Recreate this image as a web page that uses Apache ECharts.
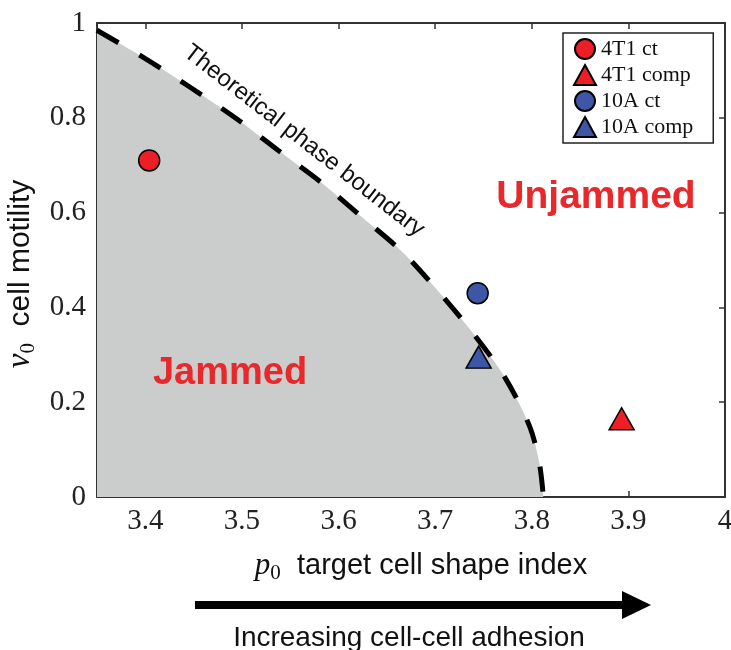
<!DOCTYPE html>
<html>
  <head>
    <meta charset="utf-8" />
    <script src="https://cdn.jsdelivr.net/npm/echarts@6/dist/echarts.min.js"></script>
  </head>
  <body style="margin:0;background:#fff">
    <div id="main" style="width: 731px;height:650px;"></div>
    <script type="text/javascript">
      // theoretical phase boundary (p0, v0)
      var boundaryP0 = [3.35, 3.353, 3.40, 3.446, 3.493, 3.537, 3.583, 3.625, 3.666, 3.705, 3.739, 3.772, 3.798, 3.808, 3.812];
      var boundaryV0 = [0.985, 0.981, 0.925, 0.865, 0.800, 0.732, 0.662, 0.589, 0.517, 0.430, 0.346, 0.253, 0.148, 0.07, 0.0];

      var seriesNames = ['4T1 ct', '4T1 comp', '10A ct', '10A comp'];
      var seriesP0 = [3.404, 3.893, 3.744, 3.745];
      var seriesV0 = [0.71, 0.165, 0.43, 0.295];
      var seriesSymbols = ['circle', 'triangle', 'circle', 'triangle'];
      var seriesColors = ['#ec1f27', '#ec1f27', '#3d56a6', '#3d56a6'];

      var boundaryData = boundaryP0.map(function (p, i) { return [p, boundaryV0[i]]; });

      var serif = 'Liberation Serif';
      var sans = 'Liberation Sans';

      var scatterSeries = seriesNames.map(function (name, i) {
        return {
          name: name,
          type: 'scatter',
          z: 5,
          symbol: seriesSymbols[i],
          symbolSize: seriesSymbols[i] == 'circle' ? 21 : [25, 22],
          itemStyle: { color: seriesColors[i], borderColor: '#000', borderWidth: 1.5, opacity: 1 },
          data: [[seriesP0[i], seriesV0[i]]]
        };
      });

      var frameLine = { onZero: false, lineStyle: { color: '#333', width: 2 } };
      var frameTick = { inside: true, length: 6, lineStyle: { color: '#333', width: 1.5 } };

      var myChart = echarts.init(document.getElementById('main'));
      var option = {
        backgroundColor: '#fff',
        animation: false,
        grid: { left: 97, right: 6, top: 23, bottom: 153, containLabel: false, outerBoundsMode: 'none' },
        legend: {
          data: seriesNames,
          orient: 'vertical',
          left: 563,
          top: 33,
          padding: [5, 20, 5, 10],
          itemWidth: 22,
          itemHeight: 20,
          itemGap: 4,
          borderColor: '#222',
          borderWidth: 1.5,
          backgroundColor: '#fff',
          textStyle: { fontFamily: serif, fontSize: 22, color: '#111' }
        },
        xAxis: [{
          type: 'value',
          min: 3.35,
          max: 4,
          splitNumber: 7,
          axisLine: frameLine,
          axisTick: frameTick,
          splitLine: { show: false },
          axisLabel: {
            margin: 10,
            fontFamily: serif, fontSize: 29, color: '#222',
            formatter: function (v) { return Math.abs(v - 3.35) < 1e-6 ? '' : String(+v.toFixed(2)); }
          },
          name: '{i|p}{s|0}{t|  target cell shape index}',
          nameLocation: 'middle',
          nameGap: 50,
          nameTextStyle: {
            rich: {
              i: { fontFamily: serif, fontStyle: 'italic', fontSize: 31, color: '#111', padding: [0, 0, 0, 20] },
              s: { fontFamily: serif, fontSize: 21, color: '#111', padding: [16, 0, 0, 0] },
              t: { fontFamily: sans, fontSize: 29, color: '#111' }
            }
          }
        }, {
          type: 'value',
          position: 'top',
          min: 3.35,
          max: 4,
          splitNumber: 7,
          axisLine: frameLine,
          axisTick: frameTick,
          splitLine: { show: false },
          axisLabel: { show: false }
        }],
        yAxis: [{
          type: 'value',
          min: 0,
          max: 1,
          interval: 0.2,
          axisLine: frameLine,
          axisTick: frameTick,
          splitLine: { show: false },
          axisLabel: { margin: 11, fontFamily: serif, fontSize: 29, color: '#222' },
          name: '{i|ν}{s|0}{t|  cell motility}',
          nameLocation: 'middle',
          nameGap: 50,
          nameTextStyle: {
            rich: {
              i: { fontFamily: serif, fontStyle: 'italic', fontSize: 33, color: '#111' },
              s: { fontFamily: serif, fontSize: 21, color: '#111', padding: [16, 0, 0, 0] },
              t: { fontFamily: sans, fontSize: 30, color: '#111', padding: [0, 28, 0, 0] }
            }
          }
        }, {
          type: 'value',
          position: 'right',
          min: 0,
          max: 1,
          interval: 0.2,
          axisLine: frameLine,
          axisTick: frameTick,
          splitLine: { show: false },
          axisLabel: { show: false }
        }],
        series: [{
          name: 'boundary',
          type: 'line',
          z: 3,
          smooth: 0.3,
          symbol: 'none',
          lineStyle: { color: '#000', width: 5, type: [25, 24] },
          areaStyle: { color: '#cbcccc', opacity: 1 },
          data: boundaryData
        }].concat(scatterSeries),
        graphic: [
          {
            type: 'text', x: 230, y: 374, z: 10,
            style: { text: 'Jammed', fill: '#e8282b', font: 'bold 38px "Liberation Sans"', align: 'center', verticalAlign: 'middle' }
          },
          {
            type: 'text', x: 596, y: 197, z: 10,
            style: { text: 'Unjammed', fill: '#e8282b', font: 'bold 39px "Liberation Sans"', align: 'center', verticalAlign: 'middle' }
          },
          {
            type: 'text', x: 304, y: 141, rotation: -0.66, z: 10,
            style: { text: 'Theoretical phase boundary', fill: '#111', font: '24px "Liberation Sans"', align: 'center', verticalAlign: 'middle' }
          },
          {
            type: 'line', z: 10,
            shape: { x1: 195, y1: 605, x2: 626, y2: 605 },
            style: { stroke: '#000', lineWidth: 8 }
          },
          {
            type: 'polygon', z: 10,
            shape: { points: [[622, 591], [651, 605], [622, 619]] },
            style: { fill: '#000' }
          },
          {
            type: 'text', x: 409, y: 638, z: 10,
            style: { text: 'Increasing cell-cell adhesion', fill: '#111', font: '28px "Liberation Sans"', align: 'center', verticalAlign: 'middle' }
          }
        ]
      };
      myChart.setOption(option);
    </script>
  </body>
</html>
